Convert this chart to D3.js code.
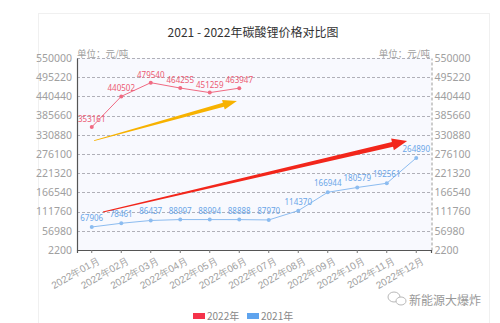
<!DOCTYPE html>
<html>
<head>
<meta charset="utf-8">
<script src="https://cdn.jsdelivr.net/npm/d3@7/dist/d3.min.js"></script>
<style>
  html, body { margin: 0; padding: 0; background: #ffffff; }
  svg { display: block; font-family: "Noto Sans CJK SC", "Noto Sans", sans-serif; }
</style>
</head>
<body>
<svg id="chart" width="500" height="323"></svg>
<script>
// Monthly lithium carbonate prices (元/吨)
const months = ["2022年01月", "2022年02月", "2022年03月", "2022年04月", "2022年05月", "2022年06月",
                "2022年07月", "2022年08月", "2022年09月", "2022年10月", "2022年11月", "2022年12月"];
const price2022 = [353161, 440502, 479540, 464255, 451259, 463947];
const price2021 = [67906, 78461, 86437, 88997, 88994, 88888, 87970, 114370, 166944, 180579, 192561, 264890];
const yTicks = [2200, 56980, 111760, 166540, 221320, 276100, 330880, 385660, 440440, 495220, 550000];
const seriesNames = ["2022年", "2021年"];

// Trend arrows, given as [month index, price]
const trendArrows = [
  { from: [0.08, 314000], to: [4.92, 427300], color: "#f7b200", w: 4, head: 14, half: 5 },
  { from: [0.38, 110600], to: [10.69, 313200], color: "#f2261b", w: 5, head: 15, half: 6 }
];

const W = 500, H = 323;
const m = { left: 77, right: 431, top: 58, bottom: 250 };
const svg = d3.select("#chart");

// card frame
svg.append("rect").attr("x", 38.5).attr("y", 13.5).attr("width", 451).attr("height", 320)
  .attr("fill", "#ffffff").attr("stroke", "#f0f0f0");

const x = d3.scaleBand().domain(months).range([m.left, m.right]).paddingInner(0).paddingOuter(0);
const xi = d3.scaleLinear().domain([-0.5, months.length - 0.5]).range([m.left, m.right]);
const y = d3.scaleLinear().domain([2200, 550000]).range([m.bottom, m.top]);
const cx = d => x(d) + x.bandwidth() / 2;

// plot background
svg.append("rect").attr("x", m.left).attr("y", m.top)
  .attr("width", m.right - m.left).attr("height", m.bottom - m.top).attr("fill", "#f8f9fe");

// title
svg.append("text").attr("x", 253).attr("y", 37).attr("text-anchor", "middle")
  .attr("font-size", 12).attr("fill", "#333").text("2021 - 2022年碳酸锂价格对比图");

// grid lines
svg.append("g").selectAll("line").data(yTicks.slice(1)).join("line")
  .attr("x1", m.left).attr("x2", m.right)
  .attr("y1", d => Math.round(y(d)) + 0.5).attr("y2", d => Math.round(y(d)) + 0.5)
  .attr("stroke", "#b0b0b8").attr("stroke-dasharray", "3,2");

// left axis
const gl = svg.append("g").attr("transform", `translate(${m.left},0)`)
  .call(d3.axisLeft(y).tickValues(yTicks).tickSize(0).tickPadding(5).tickFormat(d3.format("d")));
gl.select(".domain").attr("stroke", "#555").attr("stroke-width", 1.2);
gl.selectAll("text").attr("font-size", 10.5).attr("fill", "#a0a0a0").attr("font-family", "Noto Sans, sans-serif");

// right axis
const gr = svg.append("g").attr("transform", `translate(${m.right + 0.5},0)`)
  .call(d3.axisRight(y).tickValues(yTicks).tickSize(0).tickPadding(3).tickFormat(d3.format("d")));
gr.select(".domain").attr("stroke", "#999").attr("stroke-dasharray", "3,2");
gr.selectAll("text").attr("font-size", 10.5).attr("fill", "#a0a0a0").attr("font-family", "Noto Sans, sans-serif");

// bottom axis
const gb = svg.append("g").attr("transform", `translate(0,${m.bottom})`)
  .call(d3.axisBottom(x).tickSize(3).tickPadding(2));
gb.select(".domain").attr("stroke", "#555").attr("stroke-width", 1.2);
gb.selectAll(".tick line").attr("stroke", "#777");
gb.selectAll("text").attr("font-size", 10).attr("fill", "#a0a0a0")
  .attr("text-anchor", "end").attr("dy", "0.6em")
  .attr("transform", "translate(3,3) rotate(-30)");

// unit labels
svg.append("text").attr("x", m.left).attr("y", 57).attr("font-size", 9.5).attr("fill", "#a0a0a0").text("单位：元/吨");
svg.append("text").attr("x", m.right - 1).attr("y", 57).attr("text-anchor", "end")
  .attr("font-size", 9.5).attr("fill", "#a0a0a0").text("单位：元/吨");

// price lines
function drawSeries(values, lineColor, labelColor, dyLabel) {
  const g = svg.append("g");
  g.append("path").datum(values)
    .attr("fill", "none").attr("stroke", lineColor).attr("stroke-width", 1)
    .attr("d", d3.line().x((d, i) => cx(months[i])).y(d => y(d)));
  g.selectAll("circle").data(values).join("circle")
    .attr("cx", (d, i) => cx(months[i])).attr("cy", d => y(d)).attr("r", 2)
    .attr("fill", lineColor);
  g.selectAll("text").data(values).join("text")
    .attr("x", (d, i) => cx(months[i])).attr("y", d => y(d) - dyLabel)
    .attr("text-anchor", "middle").attr("font-size", 8)
    .attr("font-family", "Noto Sans, sans-serif")
    .attr("fill", labelColor).text(d => d);
}
drawSeries(price2022, "#f06a82", "#ec5a72", 5);
drawSeries(price2021, "#8cbcf0", "#6aa6e8", 6);

// trend arrows: tapered shaft with a triangular head
trendArrows.forEach(a => {
  const x0 = xi(a.from[0]), y0 = y(a.from[1]);
  const x1 = xi(a.to[0]), y1 = y(a.to[1]);
  const len = Math.hypot(x1 - x0, y1 - y0);
  const ux = (x1 - x0) / len, uy = (y1 - y0) / len;
  const nx = -uy, ny = ux;
  const bx = x1 - ux * a.head, by = y1 - uy * a.head;
  const pts = [
    [x0 + nx * 0.4, y0 + ny * 0.4],
    [bx + nx * a.w / 2, by + ny * a.w / 2],
    [bx + nx * a.half, by + ny * a.half],
    [x1, y1],
    [bx - nx * a.half, by - ny * a.half],
    [bx - nx * a.w / 2, by - ny * a.w / 2],
    [x0 - nx * 0.4, y0 - ny * 0.4]
  ];
  svg.append("path").attr("d", d3.line()(pts) + "Z").attr("fill", a.color);
});

// legend
const legendColors = ["#f5334a", "#5fa4ee"];
const lg = svg.append("g");
[193, 247].forEach((lx, i) => {
  lg.append("rect").attr("x", lx).attr("y", 313).attr("width", 12).attr("height", 6).attr("fill", legendColors[i]);
  lg.append("text").attr("x", lx + 14).attr("y", 320).attr("font-size", 10)
    .attr("fill", "#888").text(seriesNames[i]);
});

// account mark
const wm = svg.append("g").attr("fill", "none").attr("stroke", "#b8b8b8").attr("stroke-width", 1);
wm.append("ellipse").attr("cx", 394).attr("cy", 297).attr("rx", 6).attr("ry", 5);
wm.append("ellipse").attr("cx", 401).attr("cy", 301).attr("rx", 5).attr("ry", 4).attr("fill", "#fff");
svg.append("text").attr("x", 409).attr("y", 305).attr("font-size", 12).attr("fill", "#999").text("新能源大爆炸");
</script>
</body>
</html>
